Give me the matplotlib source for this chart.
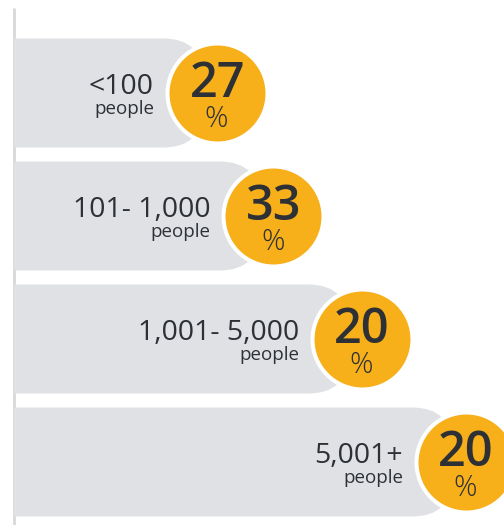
import matplotlib
matplotlib.use("Agg")
import matplotlib.pyplot as plt
from matplotlib.patches import FancyBboxPatch, Rectangle

plt.rcParams['font.family'] = ['Open Sans', 'DejaVu Sans']

# data
groups = ["<100", "101- 1,000", "1,001- 5,000", "5,001+"]
unit = "people"
shares = [27, 33, 20, 20]
bar_lengths = [38.6, 50.1, 68.2, 89.4]   # bar extent, 0-100 scale

gray = "#dfe1e5"
orange = "#f7b01a"
dark = "#2d3035"

fig = plt.figure(figsize=(5.04, 5.25), dpi=100)
ax = fig.add_axes([0, 0, 1, 1])
px_x = 4.9      # pixels per x unit
px_y = 123.0    # pixels per row
ax.set_xlim(-14 / px_x, 490 / px_x)
ax.set_ylim((525 - 93) / px_y, -93 / px_y)
ax.axis("off")

bar_h = 109 / px_y
corner = 40 / px_x
aspect = px_x / px_y
circle_off = 14 / px_x

# thin axis line on the left
ax.plot([0, 0], [-85 / px_y, 3.6], color="#d7d8db", lw=2, solid_capstyle="butt", zorder=1)
clip = Rectangle((0.1, -2), 200, 10, transform=ax.transData)

for i, (g, s, L) in enumerate(zip(groups, shares, bar_lengths)):
    bar = FancyBboxPatch((-20, i - bar_h / 2), L + 20, bar_h,
                         boxstyle=f"round,pad=0,rounding_size={corner}",
                         mutation_aspect=aspect, fc=gray, ec="none", zorder=2)
    ax.add_patch(bar)
    bar.set_clip_path(clip)
    cx = L + circle_off
    ax.scatter([cx], [i], s=72 ** 2, c=orange, edgecolors="white",
               linewidths=2.9, zorder=3, clip_on=False)
    ax.annotate(g, (cx, i), xytext=(-45.4, -0.7), textcoords="offset points",
                ha="right", va="baseline", fontsize=20.5, color=dark, zorder=4)
    ax.annotate(unit, (cx, i), xytext=(-45.4, -15.2), textcoords="offset points",
                ha="right", va="baseline", fontsize=13.5, color=dark, zorder=4)
    ax.annotate(str(s), (cx, i), xytext=(0, -2.9), textcoords="offset points",
                ha="center", va="baseline", fontsize=35, fontweight="semibold",
                color=dark, zorder=4)
    ax.annotate("%", (cx, i), xytext=(-0.5, -24.5), textcoords="offset points",
                ha="center", va="baseline", fontsize=21, fontweight="light",
                color=dark, zorder=4)

fig.savefig("out.png", dpi=100)
